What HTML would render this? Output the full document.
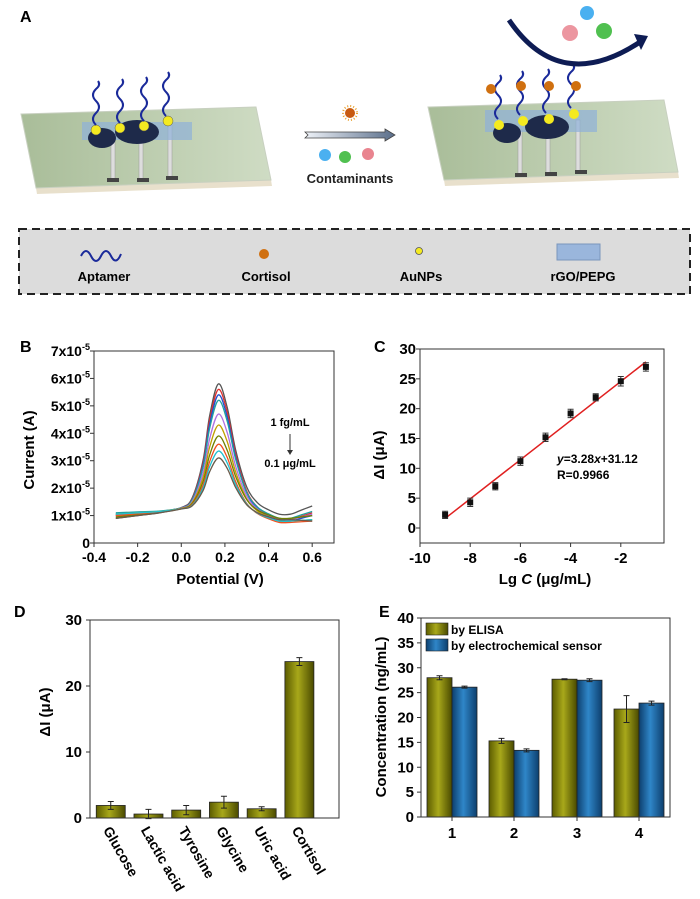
<!DOCTYPE html>
<html><head><meta charset="utf-8"><style>
body{margin:0;background:#fff}
svg{display:block;font-family:"Liberation Sans",Arial,sans-serif;font-weight:bold}
</style></head><body>
<svg id="fig" width="700" height="899" viewBox="0 0 700 899">
<defs>
<linearGradient id="slab" x1="0" y1="0" x2="1" y2="0"><stop offset="0" stop-color="#a9bd99"/><stop offset="1" stop-color="#cfdcc4"/></linearGradient>
<linearGradient id="olive" x1="0" y1="0" x2="1" y2="0"><stop offset="0" stop-color="#5c5c00"/><stop offset="0.45" stop-color="#a8a81a"/><stop offset="1" stop-color="#4a4a00"/></linearGradient>
<linearGradient id="blue" x1="0" y1="0" x2="1" y2="0"><stop offset="0" stop-color="#0d3f6e"/><stop offset="0.45" stop-color="#2f86c8"/><stop offset="1" stop-color="#0d3f6e"/></linearGradient>
<linearGradient id="arrowg" x1="0" y1="0" x2="1" y2="0"><stop offset="0" stop-color="#eef2f8"/><stop offset="1" stop-color="#5a6e8a"/></linearGradient>
</defs>

<!-- Panel A -->
<g>
<text x="20" y="22" font-size="16">A</text>
<g>
<polygon points="36,188 271,180 272,186 37,194" fill="#e8e0cc"/>
<polygon points="21,114 256,107 271,180 36,188" fill="url(#slab)" stroke="#c8d0c0"/>
<rect x="111" y="135" width="4" height="45" fill="#ddd" stroke="#999" stroke-width="0.5"/>
<rect x="139" y="132" width="4" height="48" fill="#ddd" stroke="#999" stroke-width="0.5"/>
<rect x="168" y="125" width="4" height="52" fill="#ddd" stroke="#999" stroke-width="0.5"/>
<rect x="107" y="178" width="12" height="4" fill="#444"/><rect x="137" y="178" width="12" height="4" fill="#444"/><rect x="166" y="176" width="12" height="4" fill="#444"/>
<rect x="82" y="122" width="110" height="18" fill="#8fb0d8" opacity="0.7"/>
<ellipse cx="102" cy="138" rx="14" ry="10" fill="#1e2a4a"/>
<ellipse cx="137" cy="132" rx="22" ry="12" fill="#1e2a4a"/>
<circle cx="96" cy="130" r="5" fill="#f4ea20" stroke="#555" stroke-width="0.5"/><circle cx="120" cy="128" r="5" fill="#f4ea20" stroke="#555" stroke-width="0.5"/><circle cx="144" cy="126" r="5" fill="#f4ea20" stroke="#555" stroke-width="0.5"/><circle cx="168" cy="121" r="5" fill="#f4ea20" stroke="#555" stroke-width="0.5"/>
<path d="M96,125 q-6,-6 0,-12 q6,-6 0,-12 q-6,-6 0,-12 q5,-4 2,-8" fill="none" stroke="#1a2a9a" stroke-width="2"/>
<path d="M120,123 q-6,-6 0,-12 q6,-6 0,-12 q-6,-6 0,-12 q5,-4 2,-8" fill="none" stroke="#1a2a9a" stroke-width="2"/>
<path d="M144,121 q-6,-6 0,-12 q6,-6 0,-12 q-6,-6 0,-12 q5,-4 2,-8" fill="none" stroke="#1a2a9a" stroke-width="2"/>
<path d="M166,116 q-6,-6 0,-12 q6,-6 0,-12 q-6,-6 0,-12 q5,-4 2,-8" fill="none" stroke="#1a2a9a" stroke-width="2"/>
</g>
<g>
<polygon points="305,132 385,132 385,129 395,135 385,141 385,138 305,138 308,135" fill="url(#arrowg)" stroke="#444" stroke-width="0.8"/>
<circle cx="350" cy="113" r="5" fill="#c85a10"/><circle cx="350" cy="113" r="7" fill="none" stroke="#e8a030" stroke-dasharray="1,2" stroke-width="2"/>
<circle cx="325" cy="155" r="6" fill="#4ab0f0"/><circle cx="345" cy="157" r="6" fill="#50c050"/><circle cx="368" cy="154" r="6" fill="#e05060" opacity="0.7"/>
<text x="350" y="183" font-size="13" text-anchor="middle" fill="#222">Contaminants</text>
</g>
<g>
<polygon points="444,180 678,172 679,178 445,186" fill="#e8e0cc"/>
<polygon points="428,107 664,100 678,172 444,180" fill="url(#slab)" stroke="#c8d0c0"/>
<rect x="518" y="130" width="4" height="45" fill="#ddd" stroke="#999" stroke-width="0.5"/>
<rect x="546" y="128" width="4" height="46" fill="#ddd" stroke="#999" stroke-width="0.5"/>
<rect x="576" y="120" width="4" height="52" fill="#ddd" stroke="#999" stroke-width="0.5"/>
<rect x="515" y="173" width="12" height="4" fill="#444"/><rect x="545" y="172" width="12" height="4" fill="#444"/><rect x="575" y="170" width="12" height="4" fill="#444"/>
<rect x="485" y="110" width="112" height="22" fill="#8fb0d8" opacity="0.7"/>
<ellipse cx="507" cy="133" rx="14" ry="10" fill="#1e2a4a"/>
<ellipse cx="547" cy="127" rx="22" ry="12" fill="#1e2a4a"/>
<circle cx="499" cy="125" r="5" fill="#f4ea20"/><circle cx="523" cy="121" r="5" fill="#f4ea20"/><circle cx="549" cy="119" r="5" fill="#f4ea20"/><circle cx="574" cy="114" r="5" fill="#f4ea20"/>
<path d="M498,119 q-6,-6 0,-12 q6,-6 0,-12 q-6,-6 0,-12 q5,-4 2,-8" fill="none" stroke="#1a2a9a" stroke-width="2"/>
<path d="M520,115 q-6,-6 0,-12 q6,-6 0,-12 q-6,-6 0,-12 q5,-4 2,-8" fill="none" stroke="#1a2a9a" stroke-width="2"/>
<path d="M546,113 q-6,-6 0,-12 q6,-6 0,-12 q-6,-6 0,-12 q5,-4 2,-8" fill="none" stroke="#1a2a9a" stroke-width="2"/>
<path d="M571,108 q-6,-6 0,-12 q6,-6 0,-12 q-6,-6 0,-12 q5,-4 2,-8" fill="none" stroke="#1a2a9a" stroke-width="2"/>
<circle cx="491" cy="89" r="5" fill="#d07010"/><circle cx="521" cy="86" r="5" fill="#d07010"/><circle cx="549" cy="86" r="5" fill="#d07010"/><circle cx="576" cy="86" r="5" fill="#d07010"/>
<path d="M509,20 Q560,95 640,42" fill="none" stroke="#0e1c54" stroke-width="5"/>
<polygon points="634,34 648,36 641,50" fill="#0e1c54"/>
<circle cx="587" cy="13" r="7" fill="#4ab0f0"/><circle cx="604" cy="31" r="8" fill="#50c050"/><circle cx="570" cy="33" r="8" fill="#e05060" opacity="0.6"/>
</g>
<g>
<rect x="19" y="229" width="671" height="65" fill="#dcdcdc" stroke="#222" stroke-width="2" stroke-dasharray="8,5"/>
<path d="M81,256 q5,-10 10,0 q5,10 10,0 q5,-10 10,0 q5,10 10,-2" fill="none" stroke="#1a2a9a" stroke-width="2"/>
<circle cx="264" cy="254" r="5" fill="#d07010"/>
<circle cx="419" cy="251" r="3.5" fill="#f4ea20" stroke="#555" stroke-width="0.8"/>
<rect x="557" y="244" width="43" height="16" fill="#9ab6dc" stroke="#7a96bc"/>
<text x="104" y="281" font-size="13" text-anchor="middle">Aptamer</text>
<text x="266" y="281" font-size="13" text-anchor="middle">Cortisol</text>
<text x="421" y="281" font-size="13" text-anchor="middle">AuNPs</text>
<text x="583" y="281" font-size="13" text-anchor="middle">rGO/PEPG</text>
</g>
</g>

<g id="pB"></g>
<g id="pC"></g>
<g id="pD"></g>
<g id="pE"></g>
</svg>
<script>
// ---------- Panel B data ----------
const bXs = [-0.3,-0.2,-0.1,0,0.05,0.1,0.13,0.17,0.21,0.25,0.3,0.35,0.4,0.45,0.5,0.55,0.6];
const bShape = [0,0,0,0.02,0.1,0.4,0.75,1,0.82,0.48,0.2,0.08,0.03,0,0,0,0];
const bPeaks = [5.8,5.6,5.4,5.2,4.7,4.3,3.9,3.6,3.35,3.1];
const bTailMin = [1.05,0.85,0.8,0.9,0.85,0.8,0.9,0.75,0.8,0.85];
const bEnd = [1.35,1.1,1.0,1.15,1.05,0.85,1.0,0.8,0.85,0.8];
const bLeft = [0.9,1.0,1.05,1.1,1.0,1.05,0.95,1.0,1.05,0.9];
const bColors = ['#555555','#e03030','#2050d0','#20a0a0','#b070e0','#c0a000','#708000','#f05020','#20c0d0','#6a5a4a'];
const bXTicks = [-0.4,-0.2,0.0,0.2,0.4,0.6];
const bXTickLabels = ['-0.4','-0.2','0.0','0.2','0.4','0.6'];
const bYTicks = [0,1,2,3,4,5,6,7];
// ---------- Panel C data ----------
const cX = [-9,-8,-7,-6,-5,-4,-3,-2,-1];
const cY = [2.2,4.3,7.0,11.2,15.2,19.2,21.9,24.6,27.0];
const cErr = [0.6,0.7,0.6,0.7,0.7,0.7,0.6,0.8,0.7];
const cSlope = 3.28, cIntercept = 31.12;
const cYTicks = [0,5,10,15,20,25,30];
const cXTicks = [-10,-8,-6,-4,-2];
// ---------- Panel D data ----------
const dCats = ['Glucose','Lactic acid','Tyrosine','Glycine','Uric acid','Cortisol'];
const dVals = [1.9,0.6,1.2,2.4,1.4,23.7];
const dErr = [0.6,0.7,0.7,0.9,0.3,0.6];
const dYTicks = [0,10,20,30];
// ---------- Panel E data ----------
const eCats = ['1','2','3','4'];
const eElisa = [28.0,15.3,27.7,21.7];
const eElisaErr = [0.4,0.5,0.1,2.7];
const eSensor = [26.1,13.4,27.5,22.9];
const eSensorErr = [0.2,0.3,0.3,0.4];
const eYTicks = [0,5,10,15,20,25,30,35,40];

const NS='http://www.w3.org/2000/svg';
function mk(parent,tag,attrs,text){const e=document.createElementNS(NS,tag);for(const k in attrs)e.setAttribute(k,attrs[k]);if(text!==undefined)e.textContent=text;parent.appendChild(e);return e;}
function smooth(pts){let d='M'+pts[0][0]+','+pts[0][1];for(let i=0;i<pts.length-1;i++){const p0=pts[i-1]||pts[i],p1=pts[i],p2=pts[i+1],p3=pts[i+2]||p2;d+=' C'+(p1[0]+(p2[0]-p0[0])/6)+','+(p1[1]+(p2[1]-p0[1])/6)+' '+(p2[0]-(p3[0]-p1[0])/6)+','+(p2[1]-(p3[1]-p1[1])/6)+' '+p2[0]+','+p2[1];}return d;}

// ===== Panel B =====
(function(){
const g=document.getElementById('pB');
const L=94,R=334,T=351,B=543;
const sx=v=>L+(v+0.4)/1.1*(R-L), sy=v=>B-v/7*(B-T);
let t=mk(g,'text',{x:20,y:352,'font-size':16});
t.textContent='B';
bPeaks.forEach((p,j)=>{
  const pts=bXs.map((x,i)=>{
    let base;
    if(x<=0) base=bLeft[j]+(1.2-bLeft[j])*(x+0.3)/0.3;
    else if(x<0.45) base=1.2+(bTailMin[j]-1.2)*x/0.45;
    else if(x<=0.5) base=bTailMin[j];
    else base=bTailMin[j]+(bEnd[j]-bTailMin[j])*(x-0.5)/0.1;
    const y=base+(p-base)*bShape[i];
    return [sx(x),sy(y)];
  });
  const c=mk(g,'path',{d:smooth(pts),fill:'none',stroke:bColors[j],'stroke-width':1.3});
  
  
});
const box=mk(g,'rect',{x:L,y:T,width:R-L,height:B-T,fill:'none',stroke:'#333','stroke-width':1});

bXTicks.forEach((v,i)=>{mk(g,'line',{x1:sx(v),x2:sx(v),y1:B,y2:B+4,stroke:'#333'});
  const tl=mk(g,'text',{x:sx(v),y:B+19,'font-size':14,'text-anchor':'middle'},bXTickLabels[i]);
  });
bYTicks.forEach(v=>{mk(g,'line',{x1:L-4,x2:L,y1:sy(v),y2:sy(v),stroke:'#333'});
  const tl=mk(g,'text',{x:L-4,y:sy(v)+5,'font-size':14,'text-anchor':'end'});
  
  if(v===0){tl.textContent='0';}else{tl.textContent=v+'x10';mk(tl,'tspan',{dy:-6,'font-size':9},'-5');}
});
const xt=mk(g,'text',{x:220,y:584,'font-size':15,'text-anchor':'middle'},'Potential (V)');

const yt=mk(g,'text',{x:34,y:450,'font-size':15,'text-anchor':'middle',transform:'rotate(-90 34 450)'},'Current (A)');

const a1=mk(g,'text',{x:290,y:426,'font-size':11,'text-anchor':'middle'},'1 fg/mL');

mk(g,'line',{x1:290,x2:290,y1:434,y2:452,stroke:'#333'});
mk(g,'polygon',{points:'287,450 293,450 290,455',fill:'#333'});
const a2=mk(g,'text',{x:290,y:467,'font-size':11,'text-anchor':'middle'},'0.1 μg/mL');

})();

// ===== Panel C =====
(function(){
const g=document.getElementById('pC');
const L=420,R=664,T=349,B=543;
const sx=v=>L+(v+10)*25.1, sy=v=>528-v*(179/30);
const lb=mk(g,'text',{x:374,y:352,'font-size':16},'C');

const box=mk(g,'rect',{x:L,y:T,width:R-L,height:B-T,fill:'none',stroke:'#333'});

const fl=mk(g,'line',{x1:sx(cX[0]),y1:sy(cSlope*cX[0]+cIntercept),x2:sx(cX[cX.length-1]),y2:sy(cSlope*cX[cX.length-1]+cIntercept),stroke:'#e02020','stroke-width':1.5});

cX.forEach((x,i)=>{
  const eb=mk(g,'path',{d:`M${sx(x)},${sy(cY[i]-cErr[i])}V${sy(cY[i]+cErr[i])}M${sx(x)-3},${sy(cY[i]-cErr[i])}h6M${sx(x)-3},${sy(cY[i]+cErr[i])}h6`,stroke:'#333',fill:'none'});
  
  const pt=mk(g,'rect',{x:sx(x)-3,y:sy(cY[i])-3,width:6,height:6,fill:'#111'});
  
});
cYTicks.forEach(v=>{mk(g,'line',{x1:L-4,x2:L,y1:sy(v),y2:sy(v),stroke:'#333'});
  const tl=mk(g,'text',{x:L-4,y:sy(v)+5,'font-size':15,'text-anchor':'end'},String(v));
  });
cXTicks.forEach(v=>{mk(g,'line',{x1:sx(v),x2:sx(v),y1:B,y2:B+4,stroke:'#333'});
  const tl=mk(g,'text',{x:sx(v),y:B+20,'font-size':15,'text-anchor':'middle'},String(v));
  });
const xt=mk(g,'text',{x:545,y:584,'font-size':15,'text-anchor':'middle'});

xt.innerHTML='Lg <tspan font-style="italic">C</tspan> (μg/mL)';
const yt=mk(g,'text',{x:384,y:455,'font-size':15,'text-anchor':'middle',transform:'rotate(-90 384 455)'},'ΔI (μA)');

const eq=mk(g,'text',{x:557,y:463,'font-size':12});

eq.innerHTML='<tspan font-style="italic">y</tspan>=3.28<tspan font-style="italic">x</tspan>+31.12';
const rr=mk(g,'text',{x:557,y:479,'font-size':12},'R=0.9966');

})();

// ===== Panel D =====
(function(){
const g=document.getElementById('pD');
const L=90,R=339,T=620,B=818;
const sy=v=>B-v/30*(B-T);
const step=(R-L)/6.6, x0=L+step*0.45;
const lb=mk(g,'text',{x:14,y:617,'font-size':16},'D');

dCats.forEach((c,i)=>{
  const cx=x0+i*step+step*0.1;
  const b=mk(g,'rect',{x:cx-14.5,y:sy(dVals[i]),width:29,height:B-sy(dVals[i]),fill:'url(#olive)',stroke:'#222','stroke-width':0.8});
  
  const eb=mk(g,'path',{d:`M${cx},${sy(dVals[i]-dErr[i])}V${sy(dVals[i]+dErr[i])}M${cx-3},${sy(dVals[i]-dErr[i])}h6M${cx-3},${sy(dVals[i]+dErr[i])}h6`,stroke:'#222',fill:'none'});
  
  const tl=mk(g,'text',{x:cx-8,y:B+12,'font-size':14,transform:`rotate(60 ${cx-8} ${B+12})`},c);
  
});
const box=mk(g,'rect',{x:L,y:T,width:R-L,height:B-T,fill:'none',stroke:'#333'});

dYTicks.forEach(v=>{mk(g,'line',{x1:L-4,x2:L,y1:sy(v),y2:sy(v),stroke:'#333'});
  const tl=mk(g,'text',{x:L-8,y:sy(v)+5,'font-size':15,'text-anchor':'end'},String(v));
  });
const yt=mk(g,'text',{x:50,y:712,'font-size':15,'text-anchor':'middle',transform:'rotate(-90 50 712)'},'ΔI (μA)');

})();

// ===== Panel E =====
(function(){
const g=document.getElementById('pE');
const L=421,R=670,T=618,B=817;
const sy=v=>B-v/40*(B-T);
const centers=[452,514,577,639];
const lb=mk(g,'text',{x:379,y:617,'font-size':16},'E');

eCats.forEach((c,i)=>{
  const cx=centers[i];
  [[eElisa,eElisaErr,'url(#olive)',-25,'elisa'],[eSensor,eSensorErr,'url(#blue)',0,'sensor']].forEach(s=>{
    const v=s[0][i],e=s[1][i],x=cx+s[3];
    const b=mk(g,'rect',{x:x,y:sy(v),width:25,height:B-sy(v),fill:s[2],stroke:'#222','stroke-width':0.8});
    
    const m=x+12.5;
    const eb=mk(g,'path',{d:`M${m},${sy(v-e)}V${sy(v+e)}M${m-3},${sy(v-e)}h6M${m-3},${sy(v+e)}h6`,stroke:'#222',fill:'none'});
    
  });
  mk(g,'line',{x1:cx,x2:cx,y1:B,y2:B+4,stroke:'#333'});
  const tl=mk(g,'text',{x:cx,y:B+21,'font-size':15,'text-anchor':'middle'},c);
  
});
const box=mk(g,'rect',{x:L,y:T,width:R-L,height:B-T,fill:'none',stroke:'#333'});

eYTicks.forEach(v=>{mk(g,'line',{x1:L-4,x2:L,y1:sy(v),y2:sy(v),stroke:'#333'});
  const tl=mk(g,'text',{x:L-7,y:sy(v)+5,'font-size':15,'text-anchor':'end'},String(v));
  });
const yt=mk(g,'text',{x:386,y:717,'font-size':15,'text-anchor':'middle',transform:'rotate(-90 386 717)'},'Concentration (ng/mL)');

const s1=mk(g,'rect',{x:426,y:623,width:22,height:12,fill:'url(#olive)',stroke:'#222','stroke-width':0.6});

const t1=mk(g,'text',{x:451,y:634,'font-size':12},'by ELISA');

const s2=mk(g,'rect',{x:426,y:639,width:22,height:12,fill:'url(#blue)',stroke:'#222','stroke-width':0.6});

const t2=mk(g,'text',{x:451,y:650,'font-size':12},'by electrochemical sensor');

})();
</script>
</body></html>
